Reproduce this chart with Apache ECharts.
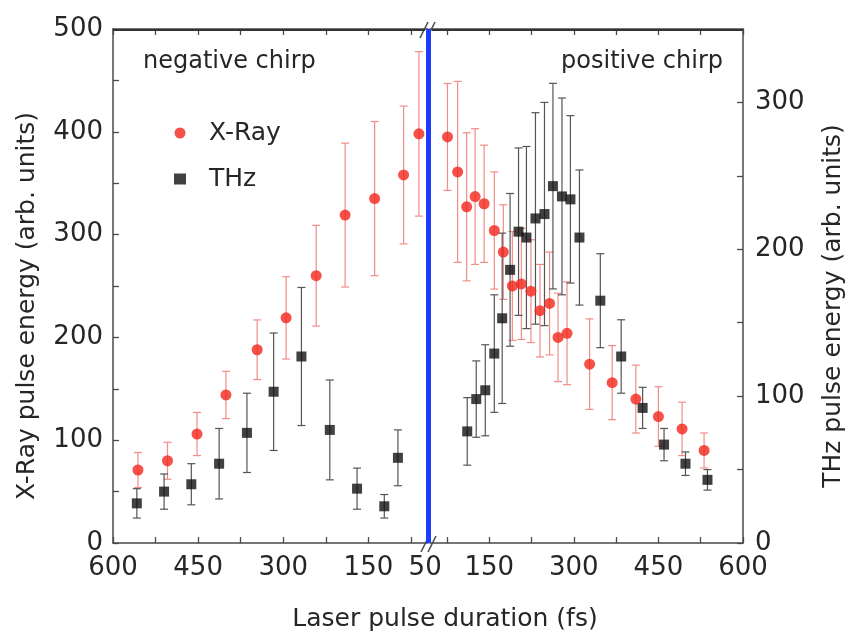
<!DOCTYPE html>
<html>
<head>
<meta charset="utf-8">
<title>X-Ray and THz pulse energy vs laser pulse duration</title>
<script src="https://cdn.jsdelivr.net/npm/echarts@6.0.0/dist/echarts.min.js"></script>
<style>
  html, body { margin: 0; padding: 0; background: #fff; }
  #chart { width: 848px; height: 635px; }
</style>
</head>
<body>
<div id="chart"></div>
<script>
// negative chirp (left part, axis runs 600 -> 50 fs)
var negDurXray = [556, 504, 452, 401, 346, 295, 242, 191, 139, 88, 61];
var negXray    = [71, 80, 106, 144, 188, 219, 260, 319, 335, 358, 398];
var negXrayErr = [17, 18, 21, 23, 29, 40, 49, 70, 75, 67, 80];

var negDurThz  = [558, 510, 462, 413, 364, 317, 268, 218, 170, 122, 98];
var negThz     = [27, 35, 40, 54, 75, 103, 127, 77, 37, 25, 58];
var negThzErr  = [10, 12, 14, 24, 27, 40, 47, 34, 14, 8, 19];

// positive chirp (right part, axis runs 50 -> 600 fs)
var posDurXray = [76, 94, 110, 125, 141, 159, 175, 191, 207, 224, 240, 257, 272, 288, 328, 368, 410, 450, 492, 531];
var posXray    = [395, 361, 327, 337, 330, 304, 283, 250, 252, 245, 226, 233, 200, 204, 174, 156, 140, 123, 111, 90];
var posXrayErr = [52, 88, 72, 66, 57, 57, 46, 53, 54, 50, 45, 50, 43, 50, 44, 36, 33, 29, 26, 17];

var posDurThz  = [111, 127, 143, 159, 173, 187, 202, 216, 232, 248, 263, 279, 294, 310, 347, 384, 422, 460, 498, 537];
var posThz     = [76, 98, 104, 129, 153, 186, 212, 208, 221, 224, 243, 236, 234, 208, 165, 127, 92, 67, 54, 43];
var posThzErr  = [23, 26, 31, 40, 58, 52, 57, 62, 72, 76, 70, 67, 57, 46, 32, 25, 14, 11, 8, 7];

// ticks / labels
var xTicks       = [600, 525, 450, 375, 300, 225, 150, 75];
var xLabelsNeg   = [600, 450, 300, 150, 50];
var xLabelsPos   = [150, 300, 450, 600];
var yTicksXray   = [0, 50, 100, 150, 200, 250, 300, 350, 400, 450, 500];
var yLabelsXray  = [0, 100, 200, 300, 400, 500];
var yTicksThz    = [0, 50, 100, 150, 200, 250, 300];
var yLabelsThz   = [0, 100, 200, 300];

var FONT = 'DejaVu Sans';
var TEXT = '#262626';
var AXIS = '#4a4a4a';
var RED = '#f3261b';
var RED_ERR = '#f08d87';
var BLACK = '#111111';
var BLACK_ERR = '#555555';
var BLUE = '#1e3cff';

function zip(xs, ys, es) {
    return xs.map(function (x, i) { return [x, ys[i], es[i]]; });
}

// 误差棒
function errRender(color) {
    return function (params, api) {
        var x = api.value(0), y = api.value(1), e = api.value(2);
        var top = api.coord([x, y + e]);
        var bot = api.coord([x, y - e]);
        var c = 4;
        var st = { stroke: color, lineWidth: 1.2 };
        return {
            type: 'group',
            children: [
                { type: 'line', shape: { x1: top[0], y1: top[1], x2: bot[0], y2: bot[1] }, style: st },
                { type: 'line', shape: { x1: top[0] - c, y1: top[1], x2: top[0] + c, y2: top[1] }, style: st },
                { type: 'line', shape: { x1: bot[0] - c, y1: bot[1], x2: bot[0] + c, y2: bot[1] }, style: st }
            ]
        };
    };
}

function xAxis(grid, inverse, position, labels) {
    return {
        type: 'value', gridIndex: grid, min: 45, max: 600, inverse: inverse, position: position,
        axisLine: { show: true, onZero: false, lineStyle: { color: AXIS, width: 1.5 } },
        axisTick: { show: true, inside: true, length: 6, customValues: xTicks, lineStyle: { color: AXIS, width: 1.3 } },
        axisLabel: {
            show: !!labels, customValues: labels || xTicks, margin: 12, hideOverlap: false,
            fontFamily: FONT, fontSize: 26, color: TEXT
        },
        splitLine: { show: false }
    };
}

var chart = echarts.init(document.getElementById('chart'));

// x axes: 0 grid0 bottom, 1 grid0 top, 2 grid1 bottom, 3 grid1 top
var option = {
    animation: false,
    backgroundColor: '#fff',
    grid: [
        { left: 113, top: 29, width: 315, height: 514 },
        { left: 430, top: 29, width: 313, height: 514 }
    ],
    legend: {
        data: ['X-Ray', 'THz'],
        orient: 'vertical',
        left: 169, top: 115,
        itemWidth: 12, itemHeight: 11, itemGap: 20,
        textStyle: { fontFamily: FONT, fontSize: 25, color: TEXT, lineHeight: 26, padding: [0, 0, 0, 18] }
    },
    xAxis: [
        xAxis(0, true, 'bottom', xLabelsNeg),
        xAxis(0, true, 'top', null),
        xAxis(1, false, 'bottom', xLabelsPos),
        xAxis(1, false, 'top', null)
    ],
    yAxis: [
        {
            type: 'value', gridIndex: 0, min: 0, max: 500, position: 'left',
            name: 'X-Ray pulse energy (arb. units)', nameLocation: 'middle', nameRotate: 90, nameGap: 73,
            nameTextStyle: { fontFamily: FONT, fontSize: 25, color: TEXT, padding: [0, 40, 0, 0] },
            axisLine: { show: true, onZero: false, lineStyle: { color: AXIS, width: 1.5 } },
            axisTick: { show: true, inside: true, length: 6, customValues: yTicksXray, lineStyle: { color: AXIS, width: 1.3 } },
            axisLabel: { customValues: yLabelsXray, margin: 10, fontFamily: FONT, fontSize: 26, color: TEXT },
            splitLine: { show: false }
        },
        { type: 'value', gridIndex: 0, min: 0, max: 350, position: 'right', show: false },
        { type: 'value', gridIndex: 1, min: 0, max: 500, position: 'left', show: false },
        {
            type: 'value', gridIndex: 1, min: 0, max: 350, position: 'right',
            name: 'THz pulse energy (arb. units)', nameLocation: 'middle', nameRotate: 90, nameGap: 78,
            nameTextStyle: { fontFamily: FONT, fontSize: 25, color: TEXT, padding: [0, 40, 0, 0] },
            axisLine: { show: true, onZero: false, lineStyle: { color: AXIS, width: 1.5 } },
            axisTick: { show: true, inside: true, length: 6, customValues: yTicksThz, lineStyle: { color: AXIS, width: 1.3 } },
            axisLabel: { customValues: yLabelsThz, margin: 12, fontFamily: FONT, fontSize: 26, color: TEXT },
            splitLine: { show: false }
        }
    ],
    series: [
        // error bars first, markers on top
        { name: 'xray-err-neg', type: 'custom', xAxisIndex: 0, yAxisIndex: 0, renderItem: errRender(RED_ERR),
          encode: { x: 0, y: 1 }, data: zip(negDurXray, negXray, negXrayErr), silent: true },
        { name: 'thz-err-neg', type: 'custom', xAxisIndex: 1, yAxisIndex: 1, renderItem: errRender(BLACK_ERR),
          encode: { x: 0, y: 1 }, data: zip(negDurThz, negThz, negThzErr), silent: true },
        { name: 'xray-err-pos', type: 'custom', xAxisIndex: 2, yAxisIndex: 2, renderItem: errRender(RED_ERR),
          encode: { x: 0, y: 1 }, data: zip(posDurXray, posXray, posXrayErr), silent: true },
        { name: 'thz-err-pos', type: 'custom', xAxisIndex: 3, yAxisIndex: 3, renderItem: errRender(BLACK_ERR),
          encode: { x: 0, y: 1 }, data: zip(posDurThz, posThz, posThzErr), silent: true },

        { name: 'THz', type: 'scatter', xAxisIndex: 1, yAxisIndex: 1, symbol: 'rect', symbolSize: 10,
          itemStyle: { color: BLACK }, data: zip(negDurThz, negThz, negThzErr) },
        { name: 'THz', type: 'scatter', xAxisIndex: 3, yAxisIndex: 3, symbol: 'rect', symbolSize: 10,
          itemStyle: { color: BLACK }, data: zip(posDurThz, posThz, posThzErr) },
        { name: 'X-Ray', type: 'scatter', xAxisIndex: 0, yAxisIndex: 0, symbol: 'circle', symbolSize: 11,
          itemStyle: { color: RED }, data: zip(negDurXray, negXray, negXrayErr),
          markLine: {
              silent: true, symbol: 'none', label: { show: false },
              lineStyle: { color: BLUE, width: 5, type: 'solid' },
              data: [{ xAxis: 45 }]
          } },
        { name: 'X-Ray', type: 'scatter', xAxisIndex: 2, yAxisIndex: 2, symbol: 'circle', symbolSize: 11,
          itemStyle: { color: RED }, data: zip(posDurXray, posXray, posXrayErr) }
    ],
    graphic: [
        { type: 'text', x: 143, y: 62, style: { text: 'negative chirp', fontFamily: FONT, fontSize: 24, fill: TEXT, textVerticalAlign: 'middle' } },
        { type: 'text', x: 723, y: 62, style: { text: 'positive chirp', fontFamily: FONT, fontSize: 24, fill: TEXT, textAlign: 'right', textVerticalAlign: 'middle' } },
        { type: 'text', x: 445, y: 619, style: { text: 'Laser pulse duration (fs)', fontFamily: FONT, fontSize: 25, fill: TEXT, textAlign: 'center', textVerticalAlign: 'middle' } },
        // top frame of the plot box (left and right part)
        { type: 'line', z: 100, shape: { x1: 113, y1: 30, x2: 425, y2: 30 }, style: { stroke: '#333333', lineWidth: 2 } },
        { type: 'line', z: 100, shape: { x1: 432, y1: 30, x2: 743, y2: 30 }, style: { stroke: '#333333', lineWidth: 2 } },
        // axis break marks
        { type: 'line', shape: { x1: 420, y1: 38, x2: 428, y2: 22 }, style: { stroke: AXIS, lineWidth: 1.5 } },
        { type: 'line', shape: { x1: 427, y1: 38, x2: 435, y2: 22 }, style: { stroke: AXIS, lineWidth: 1.5 } },
        { type: 'line', shape: { x1: 421, y1: 552, x2: 429, y2: 536 }, style: { stroke: AXIS, lineWidth: 1.5 } },
        { type: 'line', shape: { x1: 428, y1: 552, x2: 436, y2: 536 }, style: { stroke: AXIS, lineWidth: 1.5 } }
    ]
};

chart.setOption(option);
</script>
</body>
</html>
